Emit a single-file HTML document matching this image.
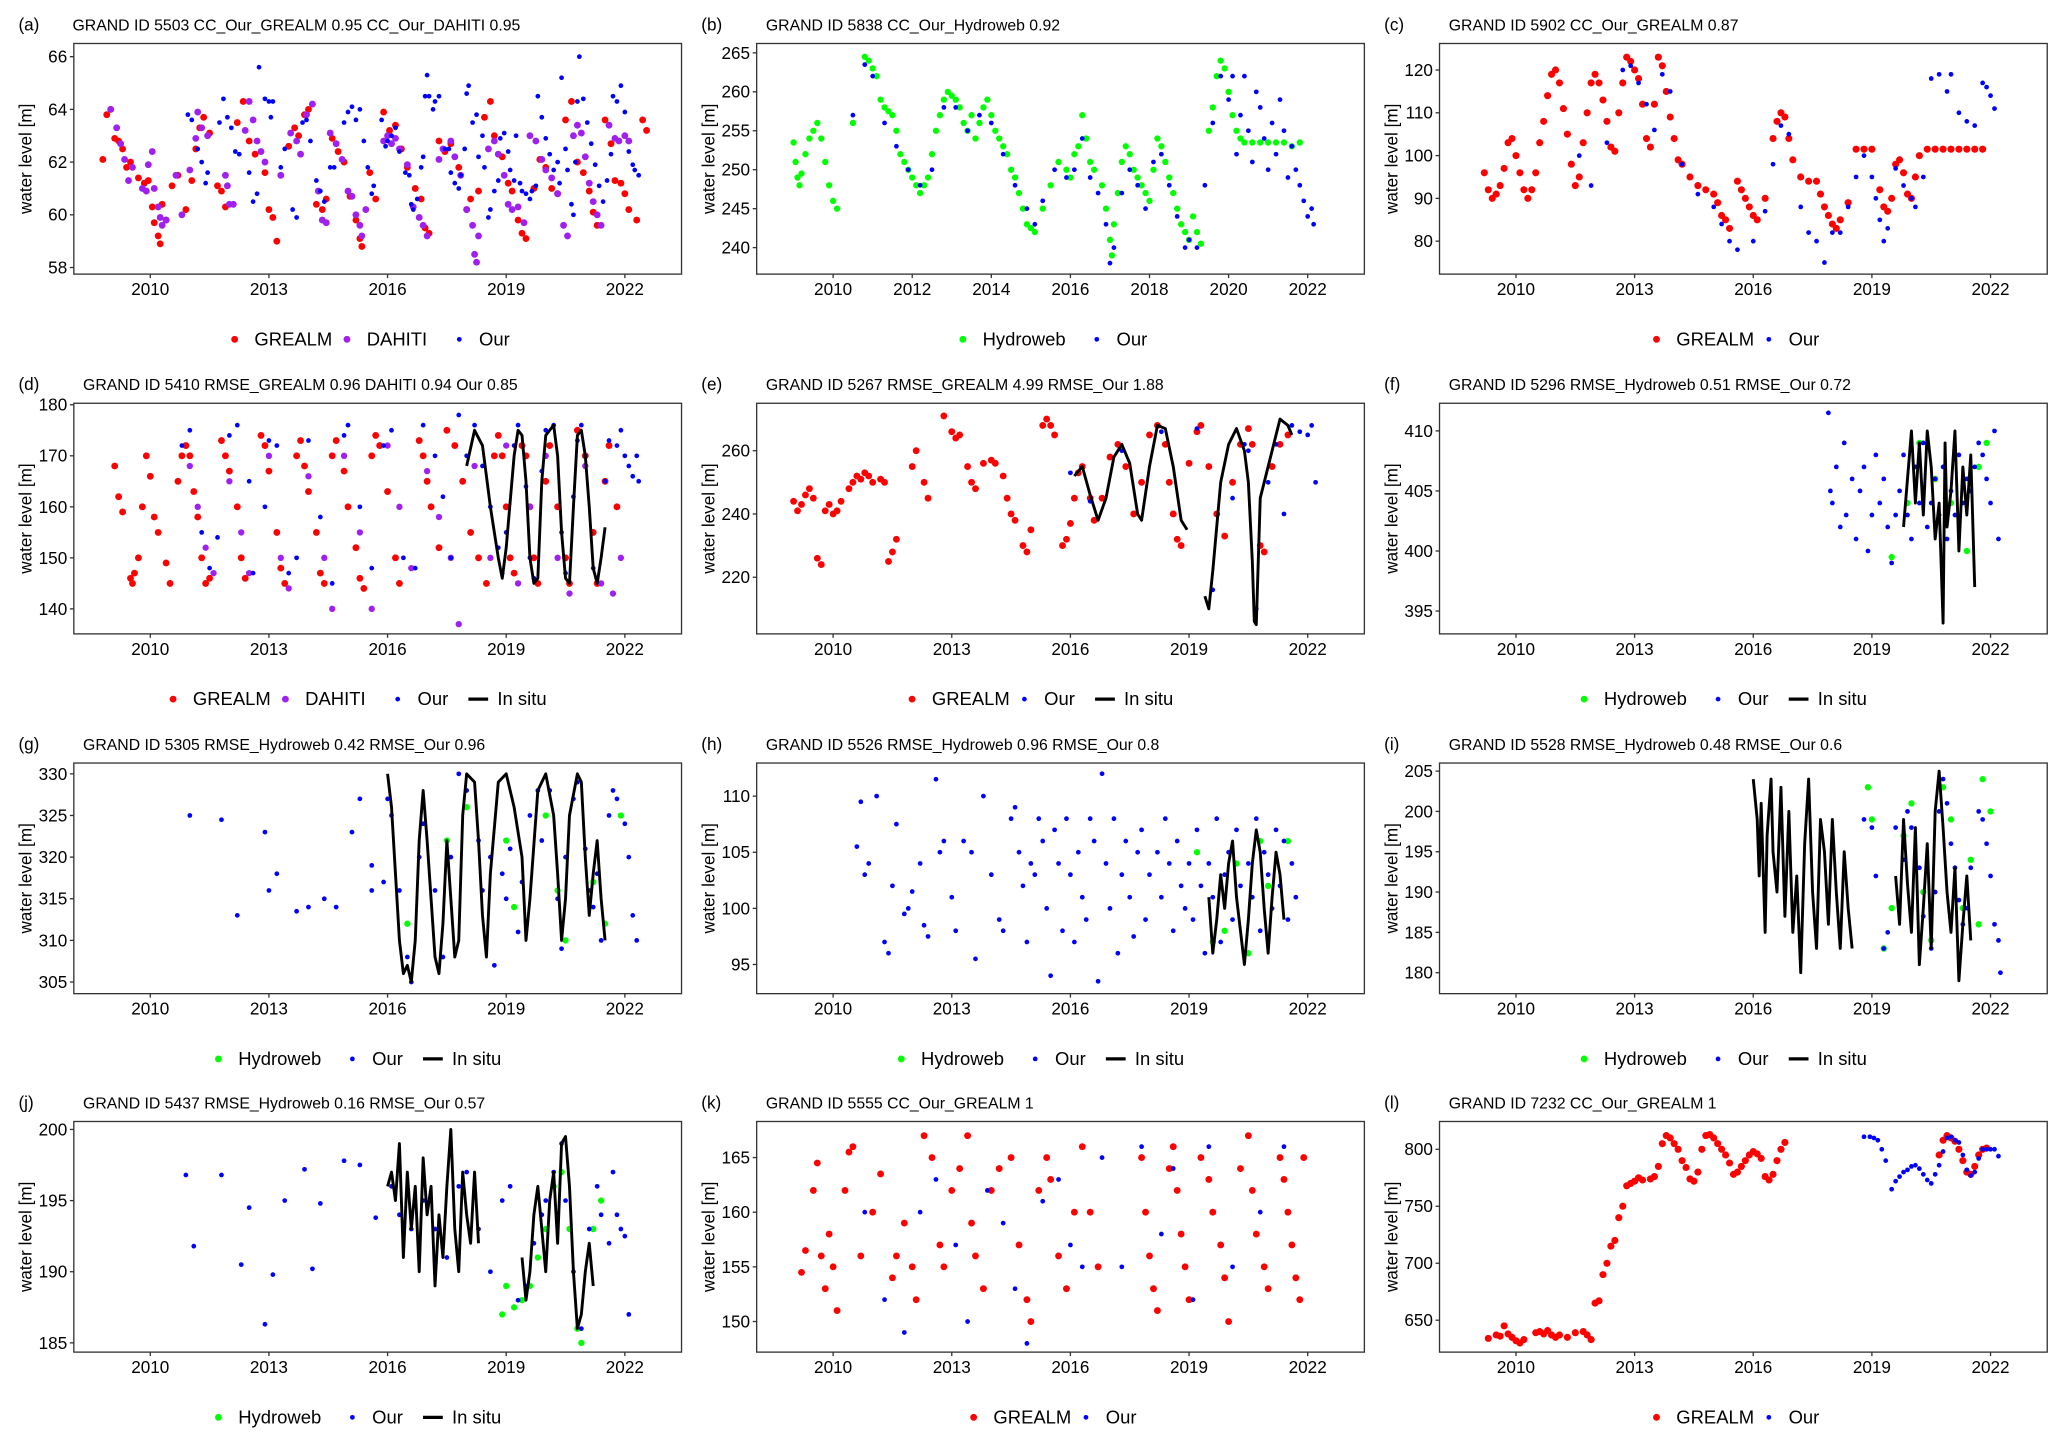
<!DOCTYPE html>
<html><head><meta charset="utf-8">
<style>
html,body{margin:0;padding:0;background:#fff;}
svg{display:block;}
text{font-family:"Liberation Sans",Arial,sans-serif;fill:#000;}
</style></head>
<body>
<svg id="fig" width="2067" height="1447" viewBox="0 0 1568 1098" preserveAspectRatio="none" xmlns="http://www.w3.org/2000/svg"></svg>
<script>
// ---------- DATA ----------
const xTicksA = [2010,2013,2016,2019,2022];
const xTicksB = [2010,2012,2014,2016,2018,2020,2022];

const aGrealm=[[2008.8,62.1],[2008.9,63.8],[2009.0,64.0],[2009.1,62.9],[2009.2,62.8],[2009.3,62.5],[2009.4,61.8],[2009.5,62.0],[2009.7,61.4],[2009.85,61.2],[2009.95,61.3],[2010.05,60.3],[2010.1,59.7],[2010.2,59.2],[2010.25,58.9],[2010.3,60.4],[2010.4,59.8],[2010.55,61.1],[2010.7,61.5],[2010.9,60.2],[2011.05,61.3],[2011.15,62.5],[2011.25,63.3],[2011.35,63.7],[2011.5,63.1],[2011.7,61.1],[2011.8,60.9],[2011.9,60.3],[2012.2,63.5],[2012.35,64.3],[2012.5,62.8],[2012.65,62.3],[2012.9,61.6],[2013.0,60.2],[2013.1,59.9],[2013.2,59.0],[2013.5,62.6],[2013.65,63.3],[2013.75,63.0],[2013.9,63.8],[2014.0,64.0],[2014.2,60.4],[2014.35,60.2],[2014.45,60.6],[2014.6,62.9],[2014.75,62.4],[2014.9,62.0],[2015.05,60.7],[2015.2,59.8],[2015.3,59.1],[2015.35,58.8],[2015.55,61.6],[2015.7,60.6],[2015.9,63.9],[2016.05,63.2],[2016.2,63.4],[2016.35,62.5],[2016.5,61.8],[2016.7,61.0],[2016.85,60.6],[2016.95,59.5],[2017.05,59.3],[2017.3,62.8],[2017.45,62.4],[2017.6,62.7],[2017.8,61.8],[2018.0,60.2],[2018.1,60.6],[2018.3,60.9],[2018.45,63.7],[2018.6,64.3],[2018.7,63.0],[2018.9,62.2],[2019.05,61.2],[2019.15,60.9],[2019.3,59.8],[2019.4,59.3],[2019.5,59.1],[2019.7,61.0],[2019.85,62.1],[2020.0,61.8],[2020.15,61.0],[2020.3,60.8],[2020.5,63.6],[2020.65,64.3],[2020.8,62.0],[2020.95,61.6],[2021.1,60.9],[2021.2,60.1],[2021.3,59.6],[2021.5,63.6],[2021.65,62.7],[2021.75,61.3],[2021.9,61.2],[2022.0,60.8],[2022.1,60.2],[2022.3,59.8],[2022.45,63.6],[2022.55,63.2]];
const aDahiti=[[2009.0,64.0],[2009.15,63.3],[2009.25,62.7],[2009.35,62.1],[2009.45,61.3],[2009.55,61.8],[2009.8,61.0],[2009.9,60.9],[2009.95,61.9],[2010.05,62.4],[2010.1,61.0],[2010.2,60.3],[2010.25,59.9],[2010.3,59.6],[2010.4,59.8],[2010.65,61.5],[2010.8,60.0],[2011.0,61.7],[2011.15,62.9],[2011.2,63.9],[2011.3,63.3],[2011.45,63.0],[2011.9,61.5],[2011.95,61.1],[2012.0,60.4],[2012.1,60.4],[2012.4,63.2],[2012.5,64.3],[2012.6,63.6],[2012.7,62.8],[2012.8,62.4],[2012.9,62.0],[2013.3,61.5],[2013.55,63.1],[2013.7,62.8],[2013.8,62.3],[2013.95,63.8],[2014.1,64.2],[2014.25,60.9],[2014.35,59.8],[2014.45,59.7],[2014.55,63.1],[2014.7,62.7],[2014.85,62.1],[2015.0,60.9],[2015.1,60.7],[2015.2,60.0],[2015.3,59.6],[2015.35,59.2],[2015.45,60.2],[2015.9,62.8],[2016.0,63.0],[2016.1,62.7],[2016.2,62.9],[2016.3,62.5],[2016.5,61.9],[2016.65,60.3],[2016.8,59.9],[2016.9,59.6],[2017.0,59.2],[2017.3,62.1],[2017.4,62.5],[2017.6,62.8],[2017.7,62.2],[2017.85,61.5],[2018.0,60.2],[2018.15,59.6],[2018.2,58.5],[2018.25,58.2],[2018.3,59.2],[2018.55,62.5],[2018.7,62.8],[2018.8,62.3],[2018.95,61.5],[2019.05,60.4],[2019.15,60.2],[2019.3,60.3],[2019.45,59.7],[2019.6,63.0],[2019.75,62.8],[2019.9,62.1],[2020.0,61.7],[2020.15,61.4],[2020.3,60.8],[2020.45,59.6],[2020.55,59.2],[2020.7,63.0],[2020.8,63.4],[2020.9,63.1],[2021.0,62.2],[2021.1,61.2],[2021.2,60.5],[2021.3,60.0],[2021.4,59.6],[2021.6,63.4],[2021.75,62.9],[2021.85,62.8],[2022.0,63.0],[2022.1,62.8]];
const aOur=[[2010.95,63.8],[2011.05,63.6],[2011.2,62.5],[2011.3,62.0],[2011.4,61.2],[2011.45,61.6],[2011.75,63.5],[2011.85,64.4],[2011.95,63.7],[2012.05,63.3],[2012.15,62.4],[2012.25,62.3],[2012.5,61.6],[2012.6,60.5],[2012.7,60.8],[2012.75,65.6],[2012.9,64.4],[2013.0,64.3],[2013.05,63.7],[2013.1,64.3],[2013.3,61.8],[2013.4,62.5],[2013.6,60.2],[2013.7,59.9],[2013.85,63.5],[2013.95,63.6],[2014.05,62.8],[2014.2,61.3],[2014.3,60.9],[2014.4,60.5],[2014.55,61.8],[2014.65,61.8],[2014.9,63.5],[2015.0,63.9],[2015.1,64.1],[2015.2,63.6],[2015.3,64.0],[2015.4,62.8],[2015.5,61.8],[2015.6,60.8],[2015.65,61.1],[2015.85,63.6],[2015.95,62.6],[2016.0,62.8],[2016.1,63.0],[2016.2,63.3],[2016.3,62.4],[2016.45,61.6],[2016.55,61.5],[2016.6,60.4],[2016.65,60.2],[2016.75,60.6],[2016.85,61.8],[2016.9,62.2],[2016.95,64.5],[2017.0,65.3],[2017.05,64.5],[2017.15,64.0],[2017.2,64.3],[2017.3,64.5],[2017.45,62.5],[2017.55,62.5],[2017.6,61.6],[2017.7,61.2],[2017.8,61.0],[2017.85,61.5],[2017.95,62.5],[2018.0,64.6],[2018.05,64.9],[2018.15,63.5],[2018.25,63.8],[2018.3,62.2],[2018.4,63.0],[2018.45,61.8],[2018.55,59.9],[2018.6,60.2],[2018.7,60.9],[2018.8,61.3],[2018.85,62.9],[2018.95,63.1],[2019.05,62.4],[2019.1,61.7],[2019.2,61.3],[2019.25,63.0],[2019.35,61.2],[2019.4,60.9],[2019.5,60.8],[2019.6,60.6],[2019.65,60.9],[2019.75,61.1],[2019.8,64.5],[2019.9,63.7],[2020.0,62.9],[2020.1,62.3],[2020.2,61.7],[2020.3,62.0],[2020.35,61.2],[2020.4,65.2],[2020.5,62.5],[2020.55,61.7],[2020.65,60.4],[2020.7,60.0],[2020.75,62.0],[2020.8,64.3],[2020.85,66.0],[2020.95,64.4],[2021.05,63.5],[2021.15,62.7],[2021.25,61.9],[2021.35,61.1],[2021.45,60.5],[2021.55,61.3],[2021.65,62.3],[2021.7,64.5],[2021.8,64.3],[2021.9,64.9],[2022.0,63.9],[2022.1,62.4],[2022.2,61.9],[2022.25,61.7],[2022.35,61.5]];

const bHydro=[[2009.0,253.5],[2009.05,251],[2009.1,249],[2009.15,248],[2009.2,249.5],[2009.3,252],[2009.4,254],[2009.5,255],[2009.6,256],[2009.7,254],[2009.8,251],[2009.9,248],[2010.0,246],[2010.1,245],[2010.5,256],[2010.8,264.5],[2010.9,264],[2011.0,263],[2011.1,262],[2011.2,259],[2011.3,258],[2011.4,257.5],[2011.5,257],[2011.6,255],[2011.7,252],[2011.8,251],[2011.9,250],[2012.0,249],[2012.1,248],[2012.2,247],[2012.3,248],[2012.4,249],[2012.5,252],[2012.6,255],[2012.7,257],[2012.8,259],[2012.9,260],[2013.0,259.5],[2013.1,259],[2013.2,258],[2013.3,256],[2013.4,255],[2013.5,257],[2013.6,254],[2013.7,256],[2013.8,258],[2013.9,259],[2014.0,257],[2014.1,255],[2014.2,254],[2014.3,253],[2014.4,252],[2014.5,250],[2014.6,249],[2014.7,247],[2014.8,245],[2014.9,243],[2015.0,242.5],[2015.1,242],[2015.3,245],[2015.5,248],[2015.7,251],[2015.9,250],[2016.0,249],[2016.1,252],[2016.2,253],[2016.3,257],[2016.4,254],[2016.5,251],[2016.6,250],[2016.8,248],[2016.9,245],[2017.0,241],[2017.05,239],[2017.1,243],[2017.2,247],[2017.3,251],[2017.4,253],[2017.5,252],[2017.6,250],[2017.7,249],[2017.8,248],[2017.9,247],[2018.0,246],[2018.1,250],[2018.2,254],[2018.3,253],[2018.4,251],[2018.5,249],[2018.6,247],[2018.7,245],[2018.8,243],[2018.9,242],[2019.0,241],[2019.1,244],[2019.2,242],[2019.3,240.5],[2019.5,255],[2019.6,258],[2019.7,262],[2019.8,264],[2019.9,263],[2020.0,260],[2020.1,257],[2020.2,255],[2020.3,254],[2020.4,253.5],[2020.6,253.5],[2020.8,253.5],[2021.0,253.5],[2021.2,253.5],[2021.4,253.5],[2021.6,253],[2021.8,253.5]];
const bOur=[[2010.5,257],[2010.8,263.5],[2011.0,262],[2011.3,256],[2011.6,253],[2011.9,250],[2012.2,248],[2012.5,250],[2012.8,258],[2013.1,258],[2013.4,255],[2013.7,257],[2014.0,256],[2014.3,252],[2014.6,248],[2014.9,245],[2015.1,243],[2015.3,246],[2015.6,250],[2015.9,249],[2016.1,250],[2016.3,254],[2016.5,249],[2016.7,247],[2016.9,243],[2017.0,238],[2017.1,240],[2017.3,247],[2017.5,250],[2017.7,248],[2017.9,245],[2018.1,251],[2018.3,252],[2018.5,248],[2018.7,244],[2018.9,240],[2019.0,241],[2019.2,240],[2019.4,248],[2019.6,256],[2019.8,262],[2020.0,259],[2020.1,262],[2020.2,252],[2020.3,257],[2020.4,262],[2020.5,255],[2020.6,251],[2020.7,260],[2020.8,258],[2020.9,254],[2021.0,250],[2021.1,256],[2021.2,252],[2021.3,259],[2021.4,255],[2021.5,249],[2021.6,253],[2021.7,250],[2021.8,248],[2021.9,246],[2022.0,244],[2022.1,245],[2022.15,243]];

const cGrealm=[[2009.2,96],[2009.3,92],[2009.4,90],[2009.5,91],[2009.6,93],[2009.7,97],[2009.8,103],[2009.9,104],[2010.0,100],[2010.1,96],[2010.2,92],[2010.3,90],[2010.4,92],[2010.5,96],[2010.6,103],[2010.7,108],[2010.8,114],[2010.9,119],[2011.0,120],[2011.1,117],[2011.2,111],[2011.3,105],[2011.4,98],[2011.5,93],[2011.6,95],[2011.7,103],[2011.8,110],[2011.9,117],[2012.0,119],[2012.1,117],[2012.2,113],[2012.3,108],[2012.4,102],[2012.5,101],[2012.6,110],[2012.7,117],[2012.8,123],[2012.9,122],[2013.0,120],[2013.1,118],[2013.2,112],[2013.3,104],[2013.4,102],[2013.5,112],[2013.6,123],[2013.7,121],[2013.8,115],[2013.9,109],[2014.0,104],[2014.1,99],[2014.2,98],[2014.4,95],[2014.6,93],[2014.8,92],[2015.0,91],[2015.1,89],[2015.2,86],[2015.3,85],[2015.4,83],[2015.6,94],[2015.7,92],[2015.8,90],[2015.9,88],[2016.0,86],[2016.1,85],[2016.3,90],[2016.5,104],[2016.6,108],[2016.7,110],[2016.8,109],[2016.9,104],[2017.0,99],[2017.2,95],[2017.4,94],[2017.6,94],[2017.7,91],[2017.8,88],[2017.9,86],[2018.0,84],[2018.1,83],[2018.2,85],[2018.4,89],[2018.6,101.5],[2018.8,101.5],[2019.0,101.5],[2019.2,92],[2019.3,88],[2019.4,87],[2019.5,90],[2019.6,98],[2019.7,99],[2019.8,96],[2019.9,91],[2020.0,90],[2020.1,95],[2020.2,100],[2020.4,101.5],[2020.6,101.5],[2020.8,101.5],[2021.0,101.5],[2021.2,101.5],[2021.4,101.5],[2021.6,101.5],[2021.8,101.5]];
const cOur=[[2011.6,100],[2011.9,93],[2012.3,103],[2012.7,120],[2012.9,121],[2013.1,117],[2013.3,112],[2013.5,106],[2013.7,119],[2013.9,115],[2014.2,98],[2014.6,91],[2015.0,88],[2015.2,84],[2015.4,80],[2015.6,78],[2016.0,80],[2016.3,87],[2016.5,98],[2016.7,107],[2016.9,105],[2017.2,88],[2017.4,82],[2017.6,80],[2017.8,75],[2018.0,82],[2018.2,82],[2018.4,88],[2018.6,95],[2018.8,100],[2019.0,95],[2019.1,90],[2019.2,85],[2019.3,80],[2019.4,83],[2019.6,97],[2019.8,93],[2020.0,90],[2020.1,88],[2020.3,95],[2020.5,118],[2020.7,119],[2020.9,115],[2021.0,119],[2021.2,110],[2021.4,108],[2021.6,107],[2021.8,117],[2021.9,116],[2022.0,114],[2022.1,111]];

const dGrealm=[[2009.1,168],[2009.2,162],[2009.3,159],[2009.5,146],[2009.55,145],[2009.6,147],[2009.7,150],[2009.8,160],[2009.9,170],[2010.0,166],[2010.1,158],[2010.2,155],[2010.4,149],[2010.5,145],[2010.7,165],[2010.8,170],[2010.9,172],[2011.0,170],[2011.1,163],[2011.2,158],[2011.3,150],[2011.4,145],[2011.5,146],[2011.8,173],[2011.9,170],[2012.0,167],[2012.2,160],[2012.3,150],[2012.4,146],[2012.8,174],[2012.9,172],[2013.0,167],[2013.2,155],[2013.3,148],[2013.4,145],[2013.7,170],[2013.8,173],[2013.9,168],[2014.0,163],[2014.2,155],[2014.3,147],[2014.4,145],[2014.6,170],[2014.7,173],[2014.9,167],[2015.0,160],[2015.2,152],[2015.3,146],[2015.4,144],[2015.6,170],[2015.7,174],[2015.8,172],[2016.0,163],[2016.2,150],[2016.3,145],[2016.8,173],[2016.9,170],[2017.0,165],[2017.1,160],[2017.3,152],[2017.5,175],[2017.7,172],[2017.9,165],[2018.1,155],[2018.3,150],[2018.5,145],[2018.7,170],[2018.8,174],[2018.9,170],[2019.0,160],[2019.1,150],[2019.2,147],[2019.4,172],[2019.5,170],[2019.6,160],[2019.7,150],[2019.8,145],[2020.0,165],[2020.1,172],[2020.3,160],[2020.5,150],[2020.6,145],[2020.8,175],[2021.0,170],[2021.2,155],[2021.3,145],[2021.5,165],[2021.6,172],[2021.8,160]];
const dDahiti=[[2011.0,168],[2011.2,160],[2011.4,152],[2011.6,147],[2012.0,165],[2012.3,155],[2012.5,147],[2013.0,170],[2013.3,150],[2013.5,144],[2014.0,166],[2014.4,150],[2014.6,140],[2014.9,170],[2015.3,155],[2015.6,140],[2016.0,172],[2016.3,160],[2016.6,148],[2017.0,167],[2017.3,158],[2017.6,150],[2017.8,137],[2018.2,168],[2018.6,150],[2019.0,172],[2019.3,145],[2019.6,160],[2020.0,170],[2020.3,150],[2020.6,143],[2021.0,168],[2021.4,145],[2021.7,143],[2021.9,150]];
const dOur=[[2010.8,172],[2011.0,175],[2011.3,155],[2011.5,148],[2011.7,154],[2012.0,174],[2012.2,176],[2012.5,165],[2012.6,147],[2012.9,160],[2013.0,173],[2013.2,172],[2013.5,147],[2013.7,150],[2014.0,173],[2014.3,158],[2014.6,145],[2014.9,174],[2015.0,176],[2015.3,160],[2015.6,148],[2015.9,172],[2016.1,175],[2016.4,150],[2016.7,148],[2016.9,176],[2017.2,170],[2017.4,162],[2017.6,150],[2017.8,178],[2018.0,170],[2018.2,176],[2018.4,168],[2018.6,160],[2018.8,152],[2018.9,147],[2019.0,155],[2019.2,172],[2019.3,176],[2019.5,164],[2019.6,150],[2019.7,146],[2019.9,167],[2020.0,175],[2020.2,176],[2020.4,155],[2020.5,147],[2020.7,162],[2020.8,173],[2020.9,176],[2021.0,170],[2021.2,148],[2021.3,146],[2021.5,165],[2021.6,173],[2021.8,172],[2021.9,175],[2022.0,170],[2022.1,168],[2022.2,166],[2022.3,170],[2022.35,165]];
const dInsitu=[[2018.0,168],[2018.2,175],[2018.4,172],[2018.6,160],[2018.8,150],[2018.9,146],[2019.0,152],[2019.2,170],[2019.3,175],[2019.4,174],[2019.5,165],[2019.6,150],[2019.7,145],[2019.8,146],[2019.9,165],[2020.0,174],[2020.2,176],[2020.3,170],[2020.4,155],[2020.5,146],[2020.6,145],[2020.7,160],[2020.8,174],[2020.9,175],[2021.0,170],[2021.1,160],[2021.2,148],[2021.3,145],[2021.4,150],[2021.5,156]];

const eGrealm=[[2009.0,244],[2009.1,241],[2009.2,243],[2009.3,246],[2009.4,248],[2009.5,245],[2009.6,226],[2009.7,224],[2009.8,241],[2009.9,243],[2010.0,240],[2010.1,241],[2010.2,244],[2010.4,248],[2010.5,250],[2010.6,252],[2010.7,251],[2010.8,253],[2010.9,252],[2011.0,250],[2011.2,251],[2011.3,250],[2011.4,225],[2011.5,228],[2011.6,232],[2012.0,255],[2012.1,260],[2012.3,250],[2012.4,245],[2012.8,271],[2013.0,266],[2013.1,264],[2013.2,265],[2013.4,255],[2013.5,250],[2013.6,248],[2013.8,256],[2014.0,257],[2014.1,256],[2014.3,252],[2014.4,245],[2014.5,240],[2014.6,238],[2014.8,230],[2014.9,228],[2015.0,235],[2015.3,268],[2015.4,270],[2015.5,268],[2015.6,265],[2015.8,230],[2015.9,232],[2016.0,237],[2016.1,245],[2016.2,253],[2016.3,255],[2016.5,245],[2016.6,238],[2016.8,245],[2017.0,258],[2017.2,262],[2017.4,255],[2017.6,240],[2017.8,250],[2018.0,265],[2018.2,268],[2018.4,262],[2018.5,250],[2018.6,240],[2018.7,232],[2018.8,230],[2019.0,256],[2019.2,266],[2019.3,268],[2019.5,255],[2019.7,240],[2019.9,233],[2020.1,250],[2020.3,262],[2020.5,267],[2020.6,262],[2020.8,230],[2020.9,228],[2021.1,255],[2021.3,262],[2021.5,265]];
const eOur=[[2016.0,253],[2016.5,244],[2017.3,260],[2018.3,266],[2019.2,267],[2019.6,216],[2020.1,245],[2020.4,262],[2020.5,260],[2020.7,210],[2021.0,250],[2021.2,262],[2021.4,240],[2021.6,268],[2021.8,266],[2022.0,265],[2022.1,268],[2022.2,250]];
const eInsitu=[[2016.1,252],[2016.3,255],[2016.5,246],[2016.7,238],[2016.9,245],[2017.1,258],[2017.3,262],[2017.5,256],[2017.7,240],[2017.8,238],[2018.0,255],[2018.2,268],[2018.4,267],[2018.6,255],[2018.8,238],[2018.95,235],[2019.0,null],[2019.4,214],[2019.5,210],[2019.6,222],[2019.8,250],[2020.0,262],[2020.2,267],[2020.4,260],[2020.5,250],[2020.6,225],[2020.65,206],[2020.7,205],[2020.75,225],[2020.8,245],[2021.0,255],[2021.2,265],[2021.3,270],[2021.5,268],[2021.6,265]];

const fHydro=[[2019.5,399.5],[2019.9,404],[2020.2,409],[2020.6,406],[2021.0,404],[2021.4,400],[2021.7,407],[2021.9,409]];
const fOur=[[2017.9,411.5],[2017.95,405],[2018.0,404],[2018.1,407],[2018.2,402],[2018.3,409],[2018.35,403],[2018.5,406],[2018.6,401],[2018.7,405],[2018.8,407],[2018.9,400],[2019.0,403],[2019.1,408],[2019.2,404],[2019.3,406],[2019.4,402],[2019.5,399],[2019.6,403],[2019.7,405],[2019.8,408],[2019.9,403],[2020.0,401],[2020.1,407],[2020.2,404],[2020.3,409],[2020.4,402],[2020.5,404],[2020.6,406],[2020.7,403],[2020.8,407],[2020.9,401],[2021.0,405],[2021.1,403],[2021.2,408],[2021.3,404],[2021.4,406],[2021.5,405],[2021.6,407],[2021.7,409],[2021.8,408],[2021.9,406],[2022.0,404],[2022.1,410],[2022.2,401]];
const fInsitu=[[2019.8,402],[2019.9,406],[2020.0,410],[2020.1,404],[2020.2,409],[2020.3,403],[2020.4,410],[2020.5,407],[2020.6,401],[2020.7,404],[2020.8,394],[2020.85,409],[2020.9,402],[2021.0,405],[2021.1,410],[2021.2,400],[2021.3,407],[2021.4,403],[2021.5,408],[2021.6,397]];

const gHydro=[[2016.5,312],[2017.5,322],[2018.0,326],[2019.0,322],[2019.2,314],[2020.0,325],[2020.3,316],[2020.5,310],[2021.2,317],[2021.5,312],[2021.9,325]];
const gOur=[[2011.0,325],[2011.8,324.5],[2012.2,313],[2012.9,323],[2013.0,316],[2013.2,318],[2013.7,313.5],[2014.0,314],[2014.4,315],[2014.7,314],[2015.1,323],[2015.3,327],[2015.6,319],[2015.6,316],[2015.9,317],[2016.0,327],[2016.1,325],[2016.3,316],[2016.5,308],[2016.6,305],[2016.8,320],[2016.9,324],[2017.2,316],[2017.4,308],[2017.6,320],[2017.8,330],[2018.0,328],[2018.3,322],[2018.4,316],[2018.6,320],[2018.7,307],[2018.9,318],[2019.0,315],[2019.1,321],[2019.3,311],[2019.4,317],[2019.6,325],[2019.8,328],[2019.9,322],[2020.1,328],[2020.3,315],[2020.4,309],[2020.5,320],[2020.7,327],[2020.8,329],[2021.0,321],[2021.1,316],[2021.2,314],[2021.3,318],[2021.4,310],[2021.6,325],[2021.7,328],[2021.8,327],[2022.0,324],[2022.1,320],[2022.2,313],[2022.3,310]];
const gInsitu=[[2016.0,330],[2016.1,326],[2016.2,318],[2016.3,310],[2016.4,306],[2016.5,307],[2016.6,305],[2016.7,310],[2016.8,322],[2016.9,328],[2017.0,322],[2017.1,315],[2017.2,308],[2017.3,306],[2017.4,312],[2017.5,322],[2017.6,315],[2017.7,308],[2017.8,310],[2017.9,325],[2018.0,330],[2018.2,329],[2018.3,322],[2018.4,313],[2018.5,308],[2018.6,318],[2018.8,329],[2019.0,330],[2019.2,326],[2019.4,320],[2019.5,310],[2019.6,315],[2019.8,328],[2020.0,330],[2020.2,325],[2020.3,318],[2020.4,310],[2020.5,315],[2020.6,325],[2020.8,330],[2020.9,329],[2021.0,320],[2021.1,313],[2021.2,318],[2021.3,322],[2021.4,315],[2021.5,310]];

const hHydro=[[2019.2,105],[2019.6,97],[2019.9,98],[2020.2,104],[2020.5,96],[2020.8,106],[2021.0,102],[2021.5,106]];
const hOur=[[2010.6,105.5],[2010.7,109.5],[2010.8,103],[2010.9,104],[2011.1,110],[2011.3,97],[2011.4,96],[2011.5,102],[2011.6,107.5],[2011.8,99.5],[2011.9,100],[2012.0,101.5],[2012.2,104],[2012.3,98.5],[2012.4,97.5],[2012.6,111.5],[2012.7,105],[2012.8,106],[2013.0,101],[2013.1,98],[2013.3,106],[2013.5,105],[2013.6,95.5],[2013.8,110],[2014.0,103],[2014.2,99],[2014.3,98],[2014.5,108],[2014.6,109],[2014.7,105],[2014.8,102],[2014.9,97],[2015.0,104],[2015.1,103],[2015.2,108],[2015.3,106],[2015.4,100],[2015.5,94],[2015.6,107],[2015.7,104],[2015.8,98],[2015.9,108],[2016.0,103],[2016.1,97],[2016.2,105],[2016.3,101],[2016.4,99],[2016.5,108],[2016.6,106],[2016.7,93.5],[2016.8,112],[2016.9,104],[2017.0,100],[2017.1,108],[2017.2,96],[2017.3,103],[2017.4,106],[2017.5,101],[2017.6,97.5],[2017.7,105],[2017.8,107],[2017.9,99],[2018.0,103],[2018.2,105],[2018.3,101],[2018.4,108],[2018.5,104],[2018.6,98],[2018.7,106],[2018.8,102],[2018.9,100],[2019.0,104],[2019.1,99],[2019.2,107],[2019.3,102],[2019.4,96],[2019.5,104],[2019.6,101],[2019.7,108],[2019.8,97],[2019.9,103],[2020.0,105],[2020.1,99],[2020.2,107],[2020.3,102],[2020.4,96],[2020.5,104],[2020.6,101],[2020.7,108],[2020.8,98],[2020.9,105],[2021.0,103],[2021.1,100],[2021.2,107],[2021.3,102],[2021.4,106],[2021.5,99],[2021.6,104],[2021.7,101]];
const hInsitu=[[2019.5,101],[2019.6,96],[2019.7,99],[2019.8,103],[2019.9,100],[2020.0,104],[2020.1,106],[2020.2,101],[2020.3,98],[2020.4,95],[2020.5,99],[2020.6,104],[2020.7,107],[2020.8,105],[2020.9,100],[2021.0,96],[2021.1,101],[2021.2,105],[2021.3,103],[2021.4,99]];

const iHydro=[[2018.9,203],[2019.0,199],[2019.3,183],[2019.5,188],[2019.8,197],[2020.0,201],[2020.3,190],[2020.5,184],[2020.8,203],[2021.0,199],[2021.3,188],[2021.5,194],[2021.7,186],[2021.8,204],[2022.0,200]];
const iOur=[[2018.8,199],[2019.0,198],[2019.1,192],[2019.3,183],[2019.4,185],[2019.6,198],[2019.8,194],[2019.9,200],[2020.0,198],[2020.2,193],[2020.3,187],[2020.5,183],[2020.6,190],[2020.7,200],[2020.8,204],[2020.9,201],[2021.0,196],[2021.1,193],[2021.2,189],[2021.3,186],[2021.4,188],[2021.5,193],[2021.7,200],[2021.8,199],[2021.9,196],[2022.0,192],[2022.1,186],[2022.2,184],[2022.25,180]];
const iInsitu=[[2016.0,204],[2016.1,199],[2016.15,192],[2016.2,201],[2016.3,185],[2016.35,197],[2016.45,204],[2016.5,195],[2016.6,190],[2016.7,203],[2016.8,187],[2016.9,200],[2017.0,185],[2017.1,192],[2017.2,180],[2017.3,196],[2017.4,204],[2017.5,190],[2017.6,183],[2017.7,199],[2017.8,195],[2017.9,186],[2018.0,199],[2018.1,190],[2018.2,183],[2018.3,195],[2018.4,188],[2018.5,183],[2018.55,null],[2019.6,192],[2019.7,186],[2019.8,199],[2019.9,191],[2020.0,185],[2020.1,198],[2020.2,181],[2020.3,188],[2020.4,196],[2020.5,183],[2020.6,200],[2020.7,205],[2020.8,198],[2020.9,190],[2021.0,185],[2021.1,193],[2021.2,179],[2021.3,186],[2021.4,192],[2021.5,184]];

const jHydro=[[2018.9,187],[2019.0,189],[2019.2,187.5],[2019.4,188],[2019.6,189],[2019.8,191],[2020.0,193],[2020.2,196],[2020.4,197],[2020.6,193],[2020.8,186],[2020.9,185],[2021.2,193],[2021.4,195]];
const jOur=[[2010.9,196.8],[2011.1,191.8],[2011.8,196.8],[2012.3,190.5],[2012.5,194.5],[2012.9,186.3],[2013.1,189.8],[2013.4,195],[2013.9,197.2],[2014.1,190.2],[2014.3,194.8],[2014.9,197.8],[2015.3,197.5],[2015.7,193.8],[2016.1,196],[2016.3,194],[2016.6,193],[2016.9,195],[2017.2,193],[2017.5,191],[2017.8,196],[2018.0,197],[2018.3,193],[2018.6,190],[2018.9,195],[2019.1,196],[2019.3,188],[2019.5,189],[2019.7,192],[2019.9,194],[2020.0,195],[2020.2,197],[2020.4,199],[2020.5,195],[2020.7,190],[2020.9,186],[2021.1,193],[2021.3,196],[2021.4,194],[2021.6,192],[2021.7,197],[2021.8,194],[2021.9,193],[2022.0,192.5],[2022.1,187]];
const jInsitu=[[2016.0,196],[2016.1,197],[2016.2,195],[2016.3,199],[2016.4,191],[2016.5,197],[2016.6,193],[2016.7,196],[2016.8,190],[2016.9,198],[2017.0,194],[2017.1,196],[2017.2,189],[2017.3,194],[2017.4,191],[2017.5,196],[2017.6,200],[2017.7,193],[2017.8,190],[2017.9,197],[2018.0,194],[2018.1,192],[2018.2,197],[2018.3,192],[2018.35,null],[2019.4,191],[2019.5,188],[2019.6,190],[2019.7,194],[2019.8,196],[2019.9,193],[2020.0,190],[2020.1,195],[2020.2,197],[2020.3,192],[2020.4,199],[2020.5,199.5],[2020.6,196],[2020.7,190],[2020.8,186],[2020.9,187],[2021.0,190],[2021.1,192],[2021.2,189]];

const kGrealm=[[2009.2,154.5],[2009.3,156.5],[2009.5,162],[2009.6,164.5],[2009.7,156],[2009.8,153],[2009.9,158],[2010.0,155],[2010.1,151],[2010.3,162],[2010.4,165.5],[2010.5,166],[2010.7,156],[2011.0,160],[2011.2,163.5],[2011.5,154],[2011.6,156],[2011.8,159],[2012.0,155],[2012.1,152],[2012.3,167],[2012.5,165],[2012.7,157],[2012.8,155],[2013.0,162],[2013.2,164],[2013.4,167],[2013.5,159],[2013.6,156],[2013.8,153],[2014.0,162],[2014.2,164],[2014.5,165],[2014.7,157],[2014.9,152],[2015.0,150],[2015.2,162],[2015.4,165],[2015.5,163],[2015.7,156],[2015.9,153],[2016.1,160],[2016.3,166],[2016.5,160],[2016.7,155],[2017.8,165],[2017.9,160],[2018.0,156],[2018.1,153],[2018.2,151],[2018.5,164],[2018.6,166],[2018.7,162],[2018.8,158],[2018.9,155],[2019.0,152],[2019.3,165],[2019.5,163],[2019.6,160],[2019.8,157],[2019.9,154],[2020.0,150],[2020.3,164],[2020.5,167],[2020.6,162],[2020.7,158],[2020.9,155],[2021.0,153],[2021.3,165],[2021.4,163],[2021.5,160],[2021.6,157],[2021.7,154],[2021.8,152],[2021.9,165]];
const kOur=[[2010.8,160],[2011.3,152],[2011.8,149],[2012.2,160],[2012.6,163],[2013.1,157],[2013.4,150],[2013.9,162],[2014.3,159],[2014.6,153],[2014.9,148],[2015.3,161],[2015.7,163],[2016.0,157],[2016.3,155],[2016.8,165],[2017.3,155],[2017.8,166],[2018.3,158],[2018.6,164],[2019.1,152],[2019.5,166],[2020.1,155],[2020.8,160],[2021.4,166]];

const lGrealm=[[2009.3,634],[2009.5,637],[2009.6,636],[2009.7,645],[2009.8,638],[2009.9,635],[2010.0,632],[2010.1,630],[2010.2,633],[2010.5,639],[2010.6,640],[2010.7,638],[2010.8,641],[2010.9,637],[2011.0,635],[2011.1,637],[2011.3,635],[2011.5,639],[2011.7,640],[2011.8,637],[2011.9,633],[2012.0,665],[2012.1,667],[2012.2,690],[2012.3,700],[2012.4,715],[2012.5,720],[2012.6,740],[2012.7,750],[2012.8,768],[2012.9,770],[2013.0,772],[2013.1,775],[2013.2,773],[2013.4,774],[2013.5,776],[2013.6,785],[2013.7,805],[2013.8,812],[2013.9,810],[2014.0,805],[2014.1,800],[2014.2,790],[2014.3,784],[2014.4,774],[2014.5,772],[2014.6,780],[2014.7,800],[2014.8,812],[2014.9,813],[2015.0,810],[2015.1,805],[2015.2,800],[2015.3,795],[2015.4,788],[2015.5,778],[2015.6,780],[2015.7,785],[2015.8,790],[2015.9,795],[2016.0,798],[2016.1,796],[2016.2,792],[2016.3,776],[2016.4,773],[2016.5,778],[2016.6,790],[2016.7,800],[2016.8,806],[2020.7,795],[2020.8,808],[2020.9,812],[2021.0,810],[2021.1,807],[2021.2,800],[2021.3,790],[2021.4,780],[2021.5,778],[2021.6,785],[2021.7,795],[2021.8,800],[2021.9,801]];
const lOur=[[2018.8,811],[2018.95,811],[2019.05,810],[2019.15,808],[2019.25,800],[2019.35,790],[2019.5,765],[2019.6,772],[2019.7,776],[2019.8,780],[2019.9,782],[2020.0,785],[2020.1,786],[2020.2,783],[2020.3,778],[2020.4,773],[2020.5,770],[2020.6,778],[2020.7,786],[2020.8,798],[2020.9,810],[2021.0,811],[2021.1,808],[2021.2,806],[2021.3,795],[2021.4,782],[2021.5,777],[2021.6,780],[2021.7,792],[2021.8,800],[2021.9,800],[2022.0,800],[2022.1,800],[2022.2,794]];

// ---------- LAYOUT ----------
const colX0=[56,574,1092], colW=461;
const rowY0=[33,306,579,851], rowH=175;
const RED='#ff0000', PUR='#a020f0', BLU='#0000ff', GRN='#00ff00';
const panels=[
 {id:'a',c:0,r:0,title:'GRAND ID 5503 CC_Our_GREALM 0.95 CC_Our_DAHITI 0.95',ylo:57.75,yhi:66.5,yt:[58,60,62,64,66],xt:xTicksA,
  s:[['GREALM',aGrealm,RED,2.6],['DAHITI',aDahiti,PUR,2.6],['Our',aOur,BLU,1.8]],leg:[['GREALM',RED,'dot'],['DAHITI',PUR,'dot'],['Our',BLU,'sdot']]},
 {id:'b',c:1,r:0,title:'GRAND ID 5838 CC_Our_Hydroweb 0.92',ylo:236.6,yhi:266.2,yt:[240,245,250,255,260,265],xt:xTicksB,
  s:[['Hydroweb',bHydro,GRN,2.4],['Our',bOur,BLU,1.8]],leg:[['Hydroweb',GRN,'dot'],['Our',BLU,'sdot']]},
 {id:'c',c:2,r:0,title:'GRAND ID 5902 CC_Our_GREALM 0.87',ylo:72.3,yhi:126.2,yt:[80,90,100,110,120],xt:xTicksA,
  s:[['GREALM',cGrealm,RED,2.7],['Our',cOur,BLU,1.8]],leg:[['GREALM',RED,'dot'],['Our',BLU,'sdot']]},
 {id:'d',c:0,r:1,title:'GRAND ID 5410 RMSE_GREALM 0.96 DAHITI 0.94 Our 0.85',ylo:135.1,yhi:180.3,yt:[140,150,160,170,180],xt:xTicksA,
  s:[['GREALM',dGrealm,RED,2.6],['DAHITI',dDahiti,PUR,2.4],['Our',dOur,BLU,1.8]],line:dInsitu,leg:[['GREALM',RED,'dot'],['DAHITI',PUR,'dot'],['Our',BLU,'sdot'],['In situ','#000','line']]},
 {id:'e',c:1,r:1,title:'GRAND ID 5267 RMSE_GREALM 4.99 RMSE_Our 1.88',ylo:202.1,yhi:275,yt:[220,240,260],xt:xTicksA,
  s:[['GREALM',eGrealm,RED,2.6],['Our',eOur,BLU,1.8]],line:eInsitu,leg:[['GREALM',RED,'dot'],['Our',BLU,'sdot'],['In situ','#000','line']]},
 {id:'f',c:2,r:1,title:'GRAND ID 5296 RMSE_Hydroweb 0.51 RMSE_Our 0.72',ylo:393.1,yhi:412.3,yt:[395,400,405,410],xt:xTicksA,
  s:[['Hydroweb',fHydro,GRN,2.4],['Our',fOur,BLU,1.8]],line:fInsitu,leg:[['Hydroweb',GRN,'dot'],['Our',BLU,'sdot'],['In situ','#000','line']]},
 {id:'g',c:0,r:2,title:'GRAND ID 5305 RMSE_Hydroweb 0.42 RMSE_Our 0.96',ylo:303.6,yhi:331.3,yt:[305,310,315,320,325,330],xt:xTicksA,
  s:[['Hydroweb',gHydro,GRN,2.4],['Our',gOur,BLU,1.8]],line:gInsitu,leg:[['Hydroweb',GRN,'dot'],['Our',BLU,'sdot'],['In situ','#000','line']]},
 {id:'h',c:1,r:2,title:'GRAND ID 5526 RMSE_Hydroweb 0.96 RMSE_Our 0.8',ylo:92.4,yhi:112.95,yt:[95,100,105,110],xt:xTicksA,
  s:[['Hydroweb',hHydro,GRN,2.4],['Our',hOur,BLU,1.8]],line:hInsitu,leg:[['Hydroweb',GRN,'dot'],['Our',BLU,'sdot'],['In situ','#000','line']]},
 {id:'i',c:2,r:2,title:'GRAND ID 5528 RMSE_Hydroweb 0.48 RMSE_Our 0.6',ylo:177.4,yhi:206,yt:[180,185,190,195,200,205],xt:xTicksA,
  s:[['Hydroweb',iHydro,GRN,2.4],['Our',iOur,BLU,1.8]],line:iInsitu,leg:[['Hydroweb',GRN,'dot'],['Our',BLU,'sdot'],['In situ','#000','line']]},
 {id:'j',c:0,r:3,title:'GRAND ID 5437 RMSE_Hydroweb 0.16 RMSE_Our 0.57',ylo:184.35,yhi:200.56,yt:[185,190,195,200],xt:xTicksA,
  s:[['Hydroweb',jHydro,GRN,2.4],['Our',jOur,BLU,1.8]],line:jInsitu,leg:[['Hydroweb',GRN,'dot'],['Our',BLU,'sdot'],['In situ','#000','line']]},
 {id:'k',c:1,r:3,title:'GRAND ID 5555 CC_Our_GREALM 1',ylo:147.2,yhi:168.3,yt:[150,155,160,165],xt:xTicksA,
  s:[['GREALM',kGrealm,RED,2.6],['Our',kOur,BLU,1.8]],leg:[['GREALM',RED,'dot'],['Our',BLU,'sdot']]},
 {id:'l',c:2,r:3,title:'GRAND ID 7232 CC_Our_GREALM 1',ylo:622,yhi:824.4,yt:[650,700,750,800],xt:xTicksA,
  s:[['GREALM',lGrealm,RED,2.7],['Our',lOur,BLU,1.8]],leg:[['GREALM',RED,'dot'],['Our',BLU,'sdot']]}
];

const NS='http://www.w3.org/2000/svg';
const svg=document.getElementById('fig');
function mk(tag,attrs,parent){const e=document.createElementNS(NS,tag);for(const k in attrs)e.setAttribute(k,attrs[k]);(parent||svg).appendChild(e);return e;}

panels.forEach(p=>{
  const x0=colX0[p.c], y0=rowY0[p.r];
  const X=t=>x0+58+(t-2010)*30;
  const Y=v=>y0+(p.yhi-v)/(p.yhi-p.ylo)*rowH;
  const g=mk('g',{});
  
  
  const lab=mk('text',{x:x0-42,y:y0-10,'font-size':13},g);lab.textContent='('+p.id+')';
  
  
  const tt=mk('text',{x:x0+(p.c===0&&p.r>0?7:-1)+(p.c>0?8:0),y:y0-10,'font-size':12},g);tt.textContent=p.title;
  
  
  const fr=mk('rect',{x:x0,y:y0,width:colW,height:rowH,fill:'#fff',stroke:'#333','stroke-width':1},g);
  
  
  p.yt.forEach(v=>{
    const y=Y(v);
    mk('line',{x1:x0-3,x2:x0,y1:y,y2:y,stroke:'#333'},g);
    const t=mk('text',{x:x0-5,y:y+4.5,'font-size':13,'text-anchor':'end'},g);t.textContent=v;
    
    
  });
  p.xt.forEach(v=>{
    const x=X(v);
    mk('line',{x1:x,x2:x,y1:y0+rowH,y2:y0+rowH+3,stroke:'#333'},g);
    const t=mk('text',{x:x,y:y0+rowH+16,'font-size':13,'text-anchor':'middle'},g);t.textContent=v;
    
    
  });
  const yl=mk('text',{x:0,y:0,'font-size':13,'text-anchor':'middle',transform:`translate(${x0-32},${y0+rowH/2}) rotate(-90)`},g);
  yl.textContent='water level [m]';
  
  
  p.s.forEach(s=>{
    const sg=mk('g',{fill:s[2]},g);
    
    
    s[1].forEach(d=>{ if(d[1]==null)return;
      const c=mk('circle',{cx:X(d[0]).toFixed(1),cy:Y(d[1]).toFixed(1),r:s[3]},sg);
      
      
    });
  });
  if(p.line){
    let dstr='',pen=false;
    p.line.forEach(d=>{ if(d[1]==null){pen=false;return;} dstr+=(pen?'L':'M')+X(d[0]).toFixed(1)+','+Y(d[1]).toFixed(1); pen=true;});
    const ln=mk('path',{d:dstr,fill:'none',stroke:'#000','stroke-width':2.2,'stroke-linejoin':'round'},g);
    
    
  }
  const widths=p.leg.map(l=>22+l[0].length*8.2+14);
  const total=widths.reduce((a,b)=>a+b,0);
  let lx=x0+colW/2-total/2;
  const ly=y0+rowH+54;
  p.leg.forEach((l,i)=>{
    const lg=mk('g',{},g);
    
    
    if(l[2]==='line') mk('line',{x1:lx,x2:lx+15,y1:ly-4.5,y2:ly-4.5,stroke:'#000','stroke-width':2.5},lg);
    else mk('circle',{cx:lx+7,cy:ly-4.5,r:l[2]==='dot'?2.6:1.8,fill:l[1]},lg);
    const t=mk('text',{x:lx+22,y:ly,'font-size':14},lg);t.textContent=l[0];
    lx+=widths[i];
  });
});
</script>
</body></html>
